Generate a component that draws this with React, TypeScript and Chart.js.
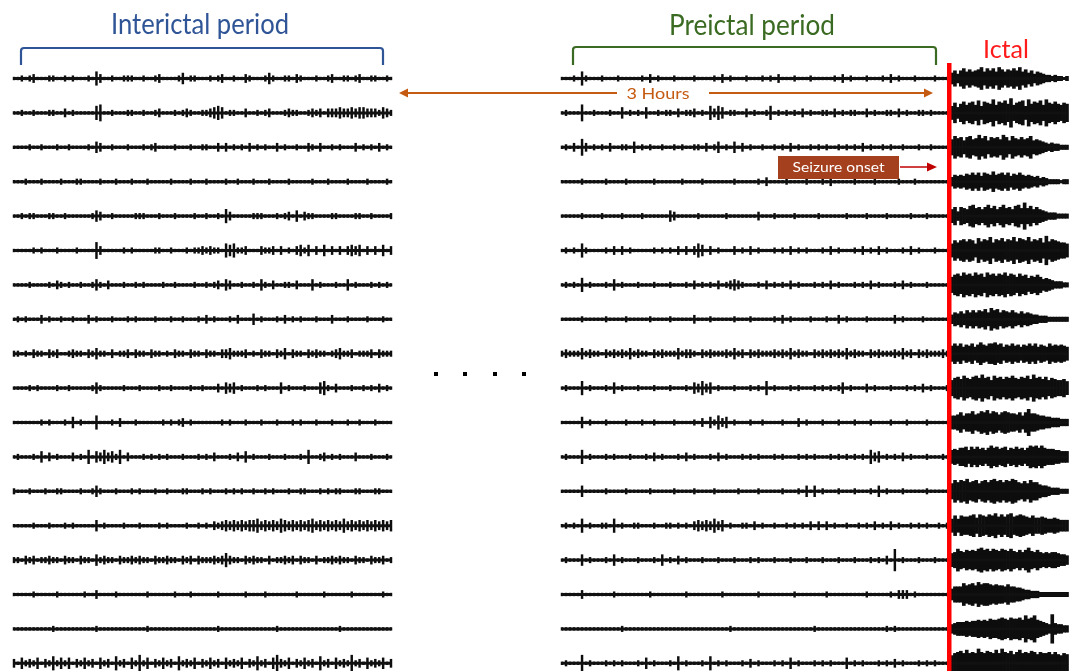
import React, { useEffect, useRef } from "react";
import { Chart, registerables } from "chart.js";
Chart.register(...registerables);

// ---- Data: per-channel EEG envelope (hex digit = half-amplitude units) ----
const interictal: string[] = [
  "1121231112211212111215311211222112112311112412211121231121132111242112213211121123112212311221121",
  "1121121112211312111115611211122112112311121232112234541221131121231112322112323133343343443332432",
  "1111211211121121111214311211121112123111121112112211313121213121211312112113213112121113121213121",
  "1112111211112111221111211121112111211111211112111211112112111211121111211111211121111211112111121",
  "1121221112211211111124311211111222111211121111211211215311111222111212314132211112211112211211112",
  "1111121211121111211116311111212111112211211121223232215452231113223131213424131413131343413131413",
  "1111211112132121121124213111211212111121121111211212314311211214213112213111412111211412111212121",
  "1212111312112112111312111211121211112111211211121312111213111412111213121211121113111211112111211",
  "2212132213231123221324221312231322132212132213221322133422231213221324132213232212342231222313222",
  "1111212111121121111124211111211121111211211112112111314341211121211141211121114521311121121213121",
  "1111111212111214121115111213111211111121212312111111121211121112111211121211121112111211211121111",
  "1211121413121113121514353425131112121212111211121213111213141211121112111215112312121113111211121",
  "2111211121122111121124211121112121112112111221112121112121211211212111211221112121221112211122111",
  "1111121112111212111114121111211121111212111121121213234343434453434354343434534343435343434343434",
  "2213231223221322132214232213223232213223221323132223235322132322131223231322131223232213221322312",
  "1111121111121111112113111121111111211111121112111111211111121111211111112111111211111121111111211",
  "1111111111211111111112111111111111211111111111111111211111111111111211111111111111121111111111111",
  "3142324132524241324231423152314262413242315232413242314232413252314632413242315231423262314232413",
];

const preictal: string[] = [
  "1112152111211121111121312111211112111121312111211121213111211121111121312111211121312111211112111",
  "1211161121112114121214112122131223121535412211312112512121213121122131212211312112213121122121111",
  "1213163121213112214121211211212112213124121413121121121213121121212112121213121121211211121121111",
  "1111121111121111211111121111112111121111111211111213111121111211121311111211112111112111211111111",
  "1111121111211112111121111114311111211111121111111311121111211111211111121111211112111112111211111",
  "1212152111121313121111121212131313541312111312131211121213121211121312111213121312111213121112111",
  "1212151211121412111211121112111213121213123432111213121213121112121312111212131211121312111211111",
  "1111121111121111211111211112111113111211111211121111121312111121112113121111211111131211112111111",
  "2322242322132323242322132322242332132322232423132322232324232213232323242322132322232423132322232",
  "1211151211121412111211121112111214353412111211121215121112121112121212412111312111211121213121112",
  "1111141211121111211121121111211112131425341211121121111211131211121112111211121111211121111211111",
  "1211151211121211121112131211121312111213121112121211121211121212111212121212153412121312111211121",
  "1111141111121111211111211111211112111121111121111211111211121414121112111211121412111211111211111",
  "1212151211221512112211121122121213434353412112213121121121212131313121121121213121312112121211212",
  "1211141211121412111211121412131211121112111211121211121112111211121112111211121213181211121112111",
  "1111131111111211111111211111111211111111211111111211111111211111112111111111211111213331211111111",
  "1111111111111112111111111111111111111111112111111111111111111112111111111111111112121111111111111",
  "1211161211121212111214121112151211121512121112131211121214121112121211141212111212131211121212111",
];

const ictal: string[] = [
  "5747968678a69796a868797a6857465433232212",
  "6958a79a7b6a98c7a9b8d79ab6c8a9b7c98a8798",
  "7a8969a78b8a69897b96a87978a676543433222",
  "4656576868587696786857686565453432222122",
  "6848769a7868a7968a7869a7c79686543332222",
  "6979a8a96b8a9c7a9b8a9c8ba9c8a9b7d8a98776",
  "79a8b9a8b9a7b9a8a9b8a97a8968797565433322",
  "4657586868796a8968768657565443332222222",
  "7979687968a8799a8968797868797968769787876",
  "79a8b98ab9c9a7b9a8a9b98a9b8c9a8a7987786",
  "6679688a78a9b8a979a9887969c8876655444333",
  "67688969797868a8978968797868a9a8a877766555",
  "7a8a9b89a79a8ab9a8a9ba8797a886554333222",
  "6969889a7a98a9b8a8ab89a987977876676555",
  "67a879898ab9a8a98a98a87979b8797676776554",
  "5777a89a8b9aa989887977665443332222222222",
  "45666767787879889a98a99a8c9ac87654d54433",
  "79ab9c9a9da9ba9c9da9b8ac9a9ba8a99a8a8798",
];

const periodLabels: string[] = ["Interictal period", "Preictal period", "Ictal"];
const durationLabel = "3 Hours";
const onsetLabel = "Seizure onset";

// ---- Layout constants ----
const W = 1075;
const H = 671;
const SEG_INTER: [number, number] = [14, 391];
const SEG_PRE: [number, number] = [562, 947];
const SEG_ICT: [number, number] = [952, 1067];
const ROW0 = 78.5;
const ROW_GAP = 34.4;
const AMP_PX = 1.35;
const AMP_ICT_PX = 1.1;

function envelope(str: string, row: number, seg: [number, number], ampPx: number) {
  const u = ampPx / ROW_GAP;
  const vals = str.split("").map((c) => parseInt(c, 16));
  const step = (seg[1] - seg[0]) / (vals.length - 1);
  return vals.map((v, i) => ({ x: seg[0] + i * step, y: [row - v * u, row + v * u] }));
}

function fitText(
  ctx: CanvasRenderingContext2D,
  text: string,
  cx: number,
  base: number,
  size: number,
  width: number,
  color: string,
  weight = "normal"
) {
  ctx.save();
  ctx.font = `${weight} ${size}px Lato, "Open Sans", sans-serif`;
  const w = ctx.measureText(text).width;
  const sx = Math.min(1.2, width / w);
  ctx.translate(cx, base);
  ctx.scale(sx, 1);
  ctx.textAlign = "center";
  ctx.textBaseline = "alphabetic";
  ctx.fillStyle = color;
  ctx.fillText(text, 0, 0);
  ctx.restore();
}

function arrowHead(ctx: CanvasRenderingContext2D, tipX: number, y: number, dir: number, len: number, half: number, color: string) {
  ctx.beginPath();
  ctx.moveTo(tipX, y);
  ctx.lineTo(tipX - dir * len, y - half);
  ctx.lineTo(tipX - dir * len, y + half);
  ctx.closePath();
  ctx.fillStyle = color;
  ctx.fill();
}

function bracket(ctx: CanvasRenderingContext2D, x0: number, x1: number, yTop: number, yBot: number, color: string) {
  ctx.save();
  ctx.strokeStyle = color;
  ctx.lineWidth = 2.2;
  ctx.beginPath();
  ctx.moveTo(x0, yBot);
  ctx.lineTo(x0, yTop + 3);
  ctx.arcTo(x0, yTop, x0 + 3, yTop, 3);
  ctx.lineTo(x1 - 3, yTop);
  ctx.arcTo(x1, yTop, x1, yTop + 3, 3);
  ctx.lineTo(x1, yBot);
  ctx.stroke();
  ctx.restore();
}

const annotations = {
  id: "eegAnnotations",
  afterDatasetsDraw(chart: any) {
    const ctx: CanvasRenderingContext2D = chart.ctx;
    ctx.save();
    fitText(ctx, periodLabels[0], 200, 34, 28, 178, "#2F5597");
    fitText(ctx, periodLabels[1], 752, 35, 28, 166, "#3B6B22");
    fitText(ctx, periodLabels[2], 1006, 58, 25, 46, "#FF1A1A");
    bracket(ctx, 21, 383, 48, 65, "#2F5597");
    bracket(ctx, 573, 936, 47, 65, "#3B6B22");
    const orange = "#C55A11";
    ctx.strokeStyle = orange;
    ctx.lineWidth = 2;
    ctx.beginPath();
    ctx.moveTo(406, 93);
    ctx.lineTo(617, 93);
    ctx.moveTo(709, 93);
    ctx.lineTo(925, 93);
    ctx.stroke();
    arrowHead(ctx, 399, 93, -1, 9, 4.5, orange);
    arrowHead(ctx, 933, 93, 1, 9, 4.5, orange);
    fitText(ctx, durationLabel, 658, 99, 16, 63, orange);
    ctx.fillStyle = "#A5401F";
    ctx.fillRect(778, 156, 121, 23);
    fitText(ctx, onsetLabel, 838.5, 172, 14, 92, "#FFFFFF");
    ctx.strokeStyle = "#C00000";
    ctx.lineWidth = 1.5;
    ctx.beginPath();
    ctx.moveTo(900, 167);
    ctx.lineTo(928, 167);
    ctx.stroke();
    arrowHead(ctx, 937, 167, 1, 10, 4.5, "#C00000");
    ctx.fillStyle = "#000";
    [436, 465, 495, 524].forEach((x) => ctx.fillRect(x - 2, 372, 4, 4));
    ctx.fillStyle = "#FF0000";
    ctx.fillRect(947, 63, 4.5, H - 63);
    ctx.restore();
  },
};

export default function App() {
  const ref = useRef<HTMLCanvasElement | null>(null);
  useEffect(() => {
    document.body.style.margin = "0";
    const canvas = ref.current;
    if (!canvas) return;
    const datasets: any[] = [];
    const baseline = (x0: number, x1: number, r: number) => ({
      type: "line",
      data: [
        { x: x0, y: r },
        { x: x1, y: r },
      ],
      borderColor: "#111111",
      borderWidth: 3,
      pointRadius: 0,
    });
    const barSet = (data: any[], thick: number) => ({
      type: "bar",
      data,
      backgroundColor: "#0d0d0d",
      barThickness: thick,
      grouped: false,
      borderWidth: 0,
    });
    for (let r = 0; r < interictal.length; r++) {
      datasets.push(baseline(SEG_INTER[0], SEG_INTER[1], r));
      datasets.push(baseline(SEG_PRE[0], SEG_ICT[1], r));
      datasets.push(barSet(envelope(interictal[r], r, SEG_INTER, AMP_PX), 1.8));
      datasets.push(barSet(envelope(preictal[r], r, SEG_PRE, AMP_PX), 1.8));
      datasets.push(barSet(envelope(ictal[r], r, SEG_ICT, AMP_ICT_PX), 3));
    }
    const chart = new Chart(canvas, {
      type: "bar",
      data: { datasets },
      options: {
        animation: false,
        responsive: false,
        maintainAspectRatio: false,
        events: [],
        layout: { padding: 0 },
        plugins: { legend: { display: false }, tooltip: { enabled: false } },
        scales: {
          x: { type: "linear", min: 0, max: W, display: false, offset: false },
          y: {
            type: "linear",
            min: -ROW0 / ROW_GAP,
            max: (H - ROW0) / ROW_GAP,
            reverse: true,
            display: false,
          },
        },
      },
      plugins: [annotations],
    } as any);
    return () => chart.destroy();
  }, []);
  return (
    <div style={{ width: W, height: H, background: "#fff" }}>
      <canvas ref={ref} width={W} height={H} style={{ display: "block" }} />
    </div>
  );
}
